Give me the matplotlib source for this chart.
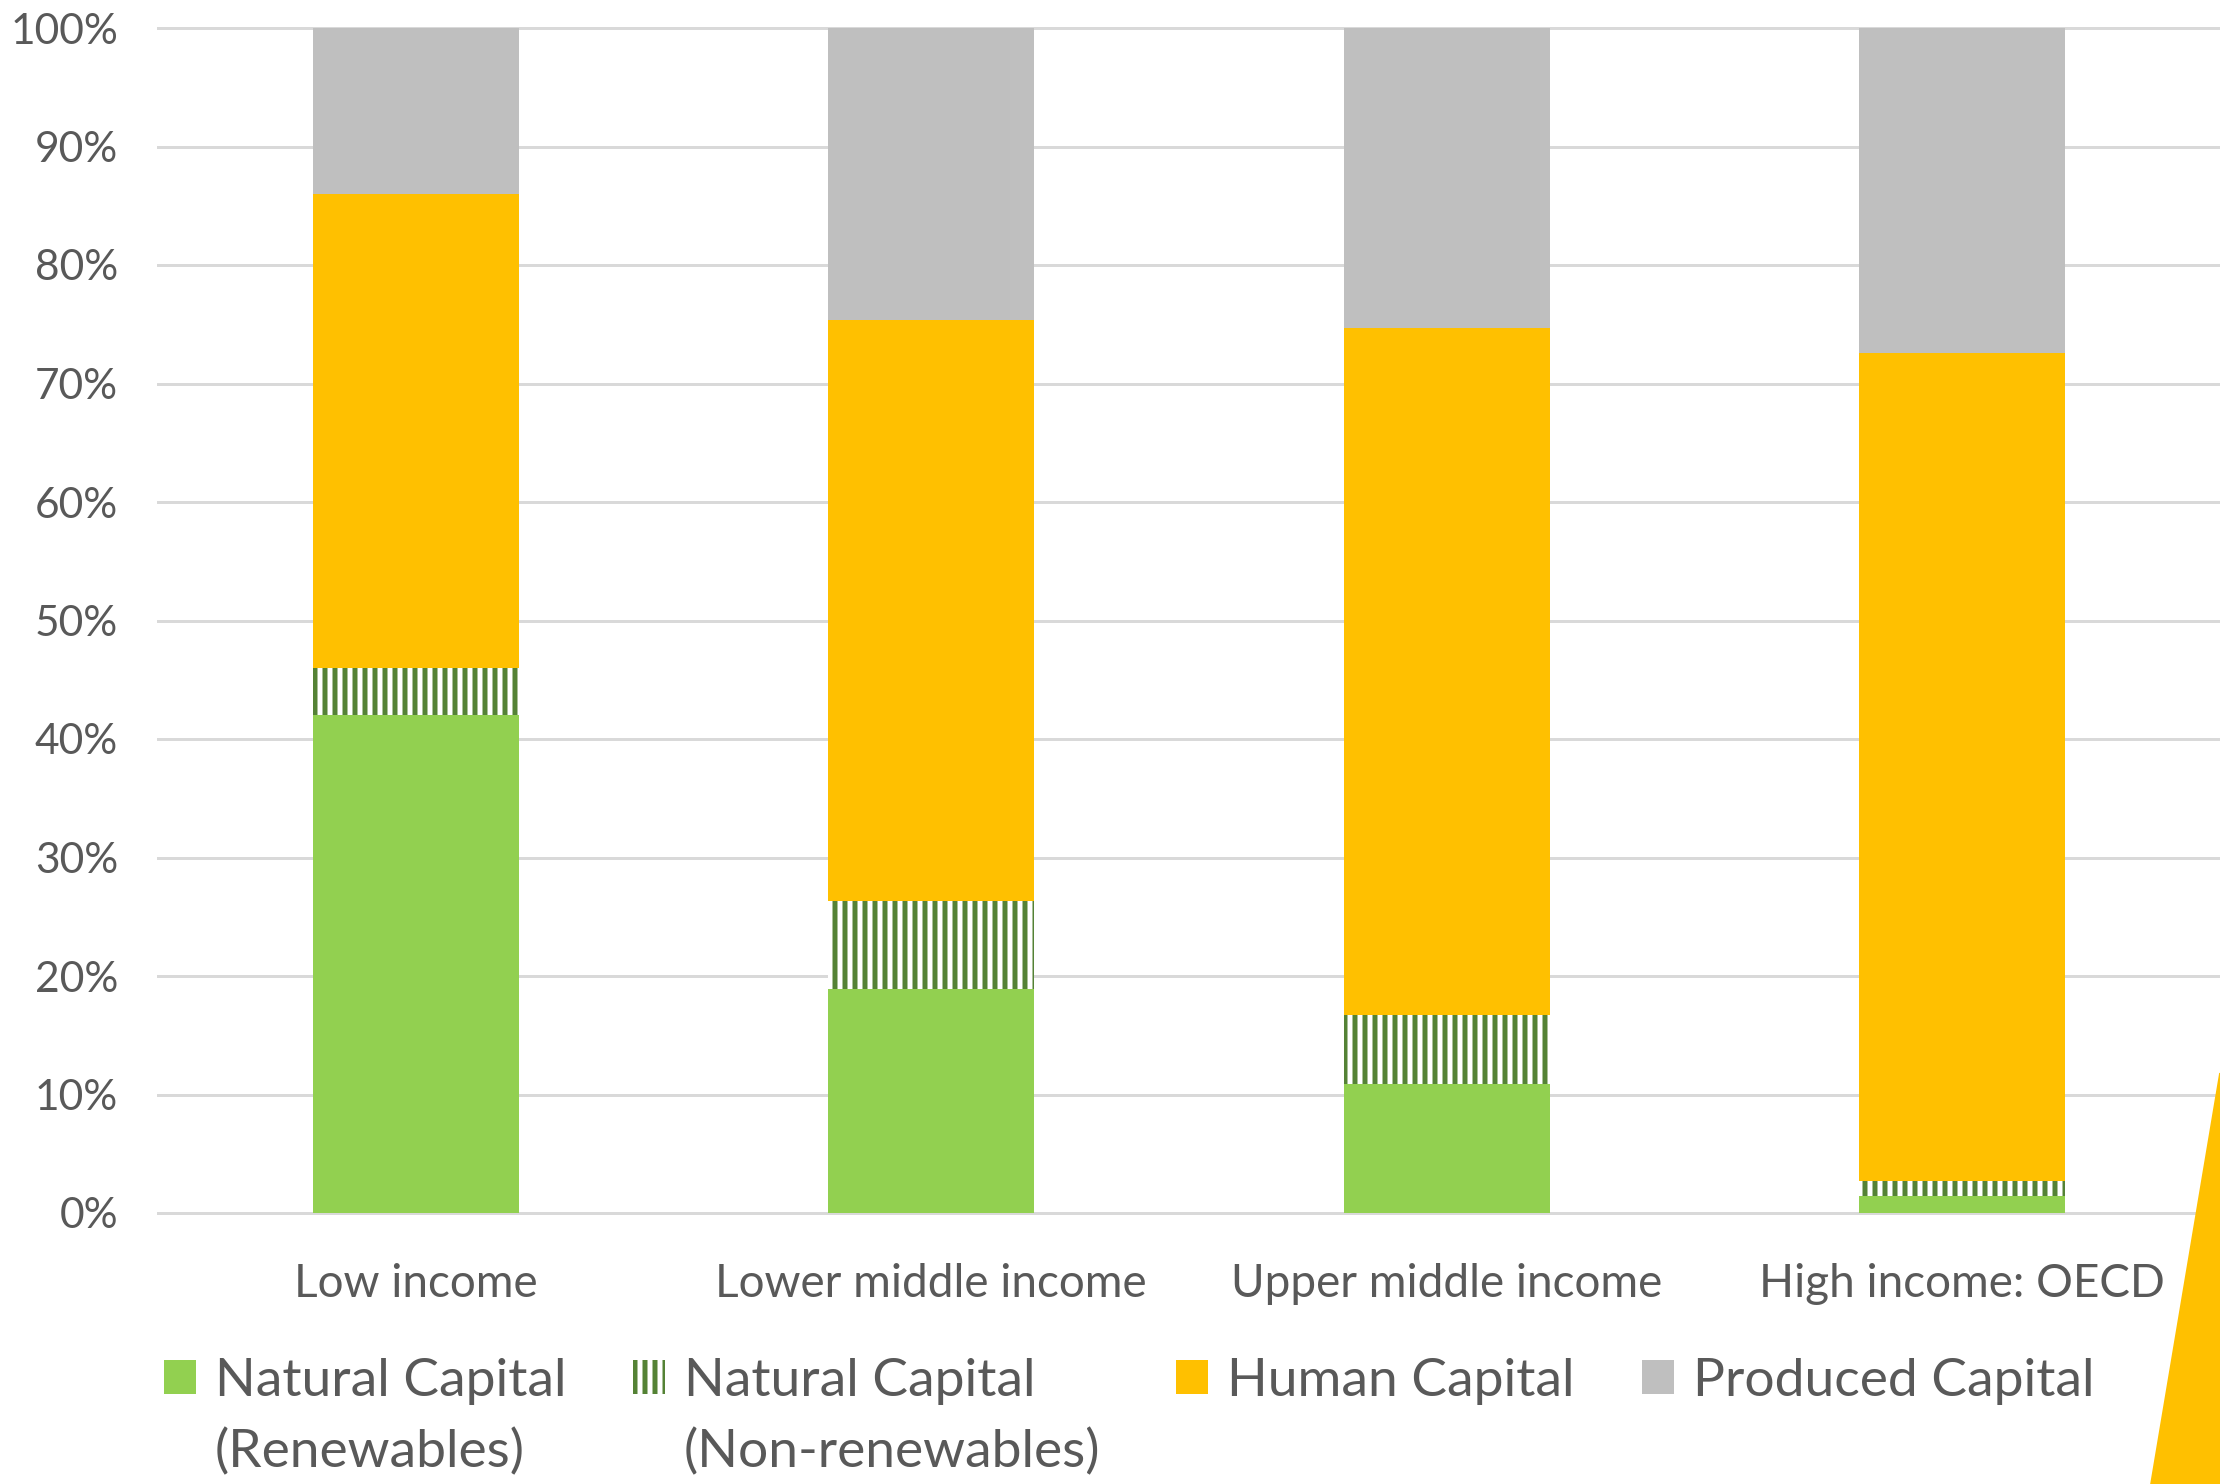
import numpy as np
import matplotlib.pyplot as plt
from matplotlib.patches import Polygon
from matplotlib.transforms import IdentityTransform

# share of total wealth by income group (%)
categories = ["Low income", "Lower middle income", "Upper middle income", "High income: OECD"]
renewables = [42.0, 18.9, 10.9, 1.4]
non_renewables = [4.0, 7.4, 5.8, 1.3]
human = [40.0, 49.1, 58.0, 69.9]
produced = [14.0, 24.6, 25.3, 27.4]
yticks = np.arange(0, 101, 10)

plt.rcParams['font.family'] = ['Lato', 'DejaVu Sans']
plt.rcParams['hatch.linewidth'] = 3.0
txt = "#595959"

fig = plt.figure(figsize=(18.5, 1484 / 120), dpi=120)
ax = fig.add_axes([158 / 2220, 1 - 1213 / 1484, 1 - 158 / 2220, (1213 - 28) / 1484])

x = np.arange(len(categories))
w = 0.4
b1 = ax.bar(x, renewables, w, color="#92D050", linewidth=0, label="Natural Capital")
bottom = np.array(renewables)
b2 = ax.bar(x, non_renewables, w, bottom=bottom, facecolor="white", edgecolor="#548235",
            hatch="||", linewidth=0, label="Natural Capital")
bottom = bottom + np.array(non_renewables)
b3 = ax.bar(x, human, w, bottom=bottom, color="#FFC000", linewidth=0, label="Human Capital")
bottom = bottom + np.array(human)
b4 = ax.bar(x, produced, w, bottom=bottom, color="#BFBFBF", linewidth=0, label="Produced Capital")

ax.set_xlim(-0.5, 3.5)
ax.set_ylim(0, 100)
ax.set_yticks(yticks)
ax.set_yticklabels(["{}%".format(v) for v in yticks])
ax.set_xticks(x)
ax.set_xticklabels(categories)
ax.yaxis.grid(True, color="#D9D9D9", linewidth=1.8)
ax.set_axisbelow(True)
for gl in ax.get_ygridlines():
    gl.set_clip_on(False)
for s in ax.spines.values():
    s.set_visible(False)
ax.tick_params(axis="y", length=0, pad=24, labelsize=25.5, labelcolor=txt)
ax.tick_params(axis="x", length=0, pad=30, labelsize=27.5, labelcolor=txt)

# legend: one entry per slot, like the spreadsheet layout
leg_x = [164, 633, 1176, 1642]
legs = []
for b, lx in zip([b1, b2, b3, b4], leg_x):
    lg = fig.legend(handles=[b], loc="upper left",
                    bbox_to_anchor=(lx / 2220, 1 - 1358 / 1484), frameon=False,
                    fontsize=32, borderpad=0, borderaxespad=0, handlelength=0.6,
                    handleheight=0.6, handletextpad=0.35, labelcolor=txt)
    legs.append(lg)

# second lines of the two natural capital labels
fig.canvas.draw()
for lg, extra in zip(legs[:2], ["(Renewables)", "(Non-renewables)"]):
    bb = lg.get_texts()[0].get_window_extent()
    fig.text(bb.x0, bb.y0 - 71, extra, fontsize=32, color=txt, ha="left", va="bottom",
             transform=IdentityTransform())

# yellow corner shape at bottom right
fig.add_artist(Polygon([(1.0, 1 - 1073 / 1484), (2151 / 2220, 0), (1.0, 0)],
                       closed=True, transform=fig.transFigure, color="#FFC000", zorder=5))

fig.savefig("out.png", dpi=120)
